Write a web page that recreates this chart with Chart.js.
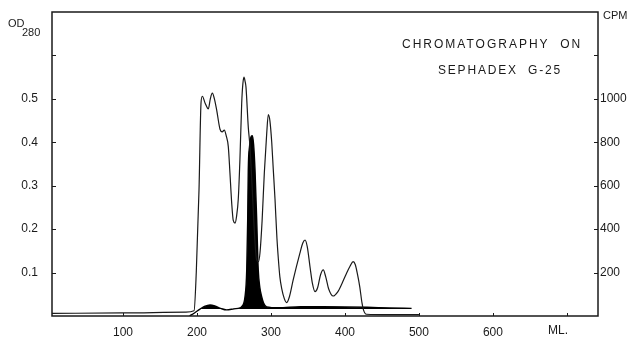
<!DOCTYPE html>
<html>
<head>
<meta charset="utf-8">
<script src="https://cdn.jsdelivr.net/npm/chart.js@4/dist/chart.umd.min.js"></script>
<style>
  body { margin: 0; background: #fff; }
  #wrap { width: 631px; height: 339px; position: relative; }
</style>
</head>
<body>
<div id="wrap"><canvas id="chart"></canvas></div>
<script>
// elution volume (ml) and OD 280 readings
var odVolume = [4, 100, 185, 196, 199, 202.7, 205.4, 207.2, 211, 215.3, 218, 220.7, 223.5, 226.6, 231.1, 234, 236.9, 239.5, 242.3, 244.5, 246.9, 249, 251.4, 253.5, 255.8, 258, 260.4, 262, 263.5, 265, 266.2, 269.3, 271.6, 275, 278, 280.5, 283, 285.1, 288, 291, 294.2, 296.4, 298.5, 301, 303, 305.4, 308, 310, 312, 314.5, 318, 321.2, 325, 330, 339, 343, 346, 349, 353, 356, 359.5, 363, 367, 370.7, 374, 378, 384, 390, 396, 402, 407, 411, 414, 417, 420, 423, 425, 429, 460, 500];
var odValue = [0.006, 0.007, 0.009, 0.012, 0.1, 0.29, 0.49, 0.506, 0.49, 0.477, 0.5, 0.513, 0.5, 0.474, 0.43, 0.424, 0.428, 0.415, 0.39, 0.33, 0.26, 0.22, 0.214, 0.23, 0.27, 0.36, 0.49, 0.535, 0.55, 0.54, 0.527, 0.435, 0.39, 0.28, 0.18, 0.13, 0.125, 0.145, 0.22, 0.33, 0.42, 0.464, 0.45, 0.40, 0.34, 0.27, 0.18, 0.13, 0.09, 0.063, 0.04, 0.031, 0.045, 0.083, 0.144, 0.168, 0.175, 0.16, 0.11, 0.075, 0.056, 0.065, 0.095, 0.106, 0.09, 0.062, 0.046, 0.055, 0.075, 0.098, 0.115, 0.125, 0.118, 0.095, 0.067, 0.03, 0.014, 0.004, 0.003, 0.003];

// radioactivity (cpm)
var cpmVolume = [190, 197, 204, 210, 217.6, 225, 232, 240, 250, 258, 260.4, 264.9, 267.2, 268.5, 269.3, 271, 273.5, 274.7, 276.5, 278.4, 280.7, 282.8, 285, 287.4, 290, 294.2, 310, 340, 370, 400, 430, 460, 490];
var cpmValue = [0, 15, 32, 44, 51, 45, 35, 28, 33, 37, 43, 89, 212, 442, 673, 780, 828, 830, 790, 673, 442, 212, 130, 89, 60, 42, 38, 43, 43, 42, 40, 37, 35];

var volumeTicks = [100, 200, 300, 400, 500, 600];
var odTicks = [0.1, 0.2, 0.3, 0.4, 0.5];
var cpmTicks = [200, 400, 600, 800, 1000];
var odTickMarks = [0.1, 0.2, 0.3, 0.4, 0.5, 0.6];
var cpmTickMarks = [200, 400, 600, 800, 1000, 1200];

var FONT = "'Liberation Sans', Arial, sans-serif";
var INK = '#1a1a1a';

function pts(xs, ys) {
  return xs.map(function (x, i) { return { x: x, y: ys[i] }; });
}

// fixed box sizes so the plot area sits where the scan has it
function fixV(w) {
  return function (s) { s.width = w; s.paddingTop = 0; s.paddingBottom = 0; };
}

var extras = {
  id: 'extras',
  afterDraw: function (chart) {
    var ctx = chart.ctx, a = chart.chartArea;
    var sx = chart.scales.x, yl = chart.scales.y, yr = chart.scales.y2;
    ctx.save();
    ctx.strokeStyle = INK;
    ctx.lineWidth = 1.5;
    ctx.strokeRect(a.left, a.top, a.right - a.left, a.bottom - a.top);
    ctx.lineWidth = 1;
    ctx.beginPath();
    odTickMarks.forEach(function (v) {
      var y = Math.round(yl.getPixelForValue(v)) + 0.5;
      ctx.moveTo(a.left, y); ctx.lineTo(a.left + 4, y);
    });
    cpmTickMarks.forEach(function (v) {
      var y = Math.round(yr.getPixelForValue(v)) + 0.5;
      ctx.moveTo(a.right, y); ctx.lineTo(a.right - 4, y);
    });
    volumeTicks.concat([700]).forEach(function (v) {
      var x = Math.round(sx.getPixelForValue(v)) + 0.5;
      ctx.moveTo(x, a.bottom); ctx.lineTo(x, a.bottom - 3);
    });
    ctx.stroke();

    ctx.fillStyle = INK;
    ctx.textBaseline = 'middle';
    ctx.textAlign = 'left';
    ctx.font = '11px ' + FONT;
    ctx.fillText('OD', 8, 24);
    ctx.fillText('280', 22, 33);
    ctx.fillText('CPM', 603, 16);
    ctx.font = '12px ' + FONT;
    ctx.textAlign = 'center';
    ctx.fillText('ML.', sx.getPixelForValue(688), 331);
    ctx.letterSpacing = '2px';
    ctx.textAlign = 'left';
    ctx.fillText('CHROMATOGRAPHY  ON', 402, 45);
    ctx.letterSpacing = '1.8px';
    ctx.fillText('SEPHADEX  G-25', 438, 71);
    ctx.restore();
  }
};

new Chart(document.getElementById('chart').getContext('2d'), {
  type: 'line',
  data: {
    datasets: [
      {
        label: 'OD 280',
        data: pts(odVolume, odValue),
        yAxisID: 'y',
        borderColor: INK,
        borderWidth: 1.2,
        pointRadius: 0,
        fill: false,
        cubicInterpolationMode: 'monotone'
      },
      {
        label: 'CPM',
        data: pts(cpmVolume, cpmValue),
        yAxisID: 'y2',
        borderColor: '#000',
        borderWidth: 1.4,
        pointRadius: 0,
        fill: { target: { value: 32 }, above: '#000', below: 'rgba(0,0,0,0)' },
        cubicInterpolationMode: 'monotone'
      }
    ]
  },
  options: {
    responsive: true,
    maintainAspectRatio: false,
    animation: false,
    layout: { padding: { top: 12, left: 0, right: 0, bottom: 0 } },
    plugins: { legend: { display: false }, tooltip: { enabled: false } },
    scales: {
      x: {
        type: 'linear',
        min: 4,
        max: 742,
        grid: { display: false, tickLength: 0 },
        border: { display: false },
        afterFit: function (s) { s.height = 23; s.paddingLeft = 0; s.paddingRight = 0; },
        afterBuildTicks: function (s) { s.ticks = volumeTicks.map(function (v) { return { value: v }; }); },
        ticks: { padding: 9, color: INK, font: { family: FONT, size: 12 } }
      },
      y: {
        position: 'left',
        min: 0,
        max: 0.7,
        grid: { display: false, tickLength: 0 },
        border: { display: false },
        afterFit: fixV(52),
        afterBuildTicks: function (s) { s.ticks = odTicks.map(function (v) { return { value: v }; }); },
        ticks: { padding: 14, color: INK, font: { family: FONT, size: 12 }, callback: function (v) { return v.toFixed(1); } }
      },
      y2: {
        position: 'right',
        min: 0,
        max: 1400,
        grid: { display: false, tickLength: 0 },
        border: { display: false },
        afterFit: fixV(33),
        afterBuildTicks: function (s) { s.ticks = cpmTicks.map(function (v) { return { value: v }; }); },
        ticks: { padding: 2, color: INK, font: { family: FONT, size: 12 }, callback: function (v) { return String(v); } }
      }
    }
  },
  plugins: [extras]
});
</script>
</body>
</html>
